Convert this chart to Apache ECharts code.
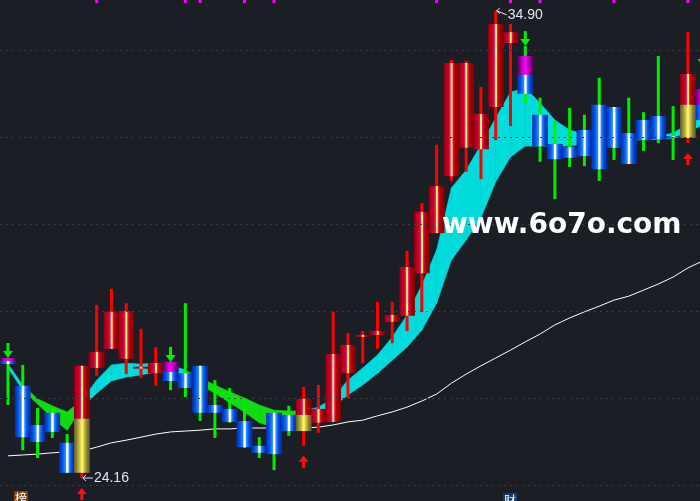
<!DOCTYPE html>
<html>
<head>
<meta charset="utf-8">
<script src="https://cdn.jsdelivr.net/npm/echarts@6/dist/echarts.min.js"></script>
<style>
  html, body { margin: 0; padding: 0; background: #1c1e25; }
  #main { width: 700px; height: 501px; }
</style>
</head>
<body>
<div id="main"></div>
<script>
// 日K 数据，横轴用 K 线序号
var openP = [26.92,26.28,25.38,25.66,24.97,24.28,26.69,27.13,26.90,26.71,26.57,26.83,26.57,26.74,25.84,25.75,25.47,24.90,25.66,25.61,25.24,25.43,25.45,26.57,
  27.43,27.45,27.75,27.89,28.87,29.79,31.10,31.75,31.72,32.69,34.16,33.86,32.51,31.84,31.77,32.16,32.74,32.69,32.09,32.39,32.48,32.02,31.98,33.10];
var closeP = [26.78,25.10,24.99,25.22,24.28,26.74,27.06,27.98,28.00,26.72,26.80,26.39,26.23,25.66,25.66,25.45,24.87,24.74,24.71,25.24,25.98,25.75,27.01,27.22,
  27.45,27.54,27.91,29.01,30.28,30.87,33.70,33.70,32.53,34.60,34.41,32.99,31.79,31.49,31.52,31.56,31.26,31.75,31.38,31.93,31.95,31.98,33.45,32.39];
var lowP = [25.84,24.80,24.62,25.08,24.28,24.16,26.51,27.13,26.55,26.46,26.28,26.18,26.02,25.47,25.08,25.43,24.85,24.62,24.34,25.13,24.90,25.20,25.45,26.00,
  26.80,27.13,27.26,27.54,27.98,29.79,30.99,31.20,31.03,31.93,32.25,32.78,31.43,30.57,31.31,31.33,30.99,31.47,31.38,31.68,31.86,31.47,31.86,32.30];
var highP = [26.92,26.76,25.77,25.79,25.17,26.74,28.14,28.51,28.18,27.59,27.17,26.83,28.18,26.74,26.41,26.23,26.00,25.10,25.68,25.82,26.25,26.30,27.98,27.49,
  27.54,28.21,28.21,29.38,30.48,31.82,33.77,33.75,33.15,34.90,34.60,34.09,32.90,32.34,32.67,32.51,33.36,32.69,32.90,32.57,33.86,32.71,34.41,33.63];

// 长期均线（白线）
var maVals = [24.67,24.69,24.71,24.74,24.76,24.78,24.87,24.97,25.03,25.10,25.17,25.22,25.24,25.26,25.29,25.29,25.31,25.31,25.31,25.31,25.31,25.33,25.38,25.45,
  25.49,25.59,25.68,25.79,25.93,26.09,26.34,26.55,26.74,26.92,27.10,27.29,27.47,27.68,27.84,27.98,28.11,28.25,28.34,28.48,28.62,28.78,28.99,29.15];

// 彩带上下沿 + 每段颜色（1 青 / 0 绿）
var bandHi = [26.78,26.30,25.98,25.82,25.68,25.95,26.41,26.76,26.80,26.78,26.80,26.76,26.64,26.46,26.30,26.14,26.00,25.84,25.72,25.70,25.70,25.79,26.00,26.41,
  26.69,26.99,27.40,27.91,28.60,29.40,30.83,31.24,31.82,32.44,33.03,33.13,32.78,32.39,32.16,32.07,32.02,32.00,32.00,32.00,32.02,32.09,32.30,32.44];
var bandLo = [26.69,26.18,25.86,25.54,25.26,25.77,26.11,26.39,26.48,26.53,26.60,26.60,26.48,26.30,26.11,25.89,25.68,25.43,25.33,25.61,25.63,25.70,25.79,26.07,
  26.30,26.57,26.87,27.17,27.56,28.18,29.17,29.63,30.14,30.97,31.54,31.79,31.79,31.79,31.79,31.84,31.89,31.91,31.93,31.93,31.95,31.98,32.11,32.28];
var bandUp = [1,0,0,0,0,1,1,1,1,1,1,1,0,0,0,0,0,0,0,0,
  1,1,1,1,1,1,1,1,1,1,1,1,1,1,1,1,1,1,1,1,1,1,1,1,1,1,1];

// 实体上的叠加色块（p 紫 / y 黄）
var overlayIdx = [0, 5, 11, 20, 35, 46, 47];
var overlayTop = [26.92, 25.52, 26.83, 25.61, 33.86, 32.74, 33.10];
var overlayBot = [26.85, 24.28, 26.60, 25.24, 33.43, 31.98, 32.74];
var overlayKind = ['p', 'y', 'p', 'y', 'p', 'y', 'p'];

// 买卖箭头
var buyIdx = [5, 20, 46];
var buyPrice = [23.93, 24.67, 31.63];
var sellIdx = [0, 11, 35, 47];
var sellPrice = [26.92, 26.83, 34.09, 33.63];

// 顶部紫色小点
var topIdx = [6, 12, 13, 16, 18, 29, 34, 36, 41, 46];

// 最高 / 最低标注
var noteIdx = [33, 5];
var notePrice = [34.90, 24.16];
var gridPrices = [24, 26, 28, 30, 32, 34];

var xMin = -0.54, xMax = 46.82;
var yMin = 23.632, yMax = 35.149;

var LG = echarts.graphic.LinearGradient;
var redGrad = new LG(0, 0, 1, 0, [
  {offset: 0, color: '#7e0010'}, {offset: 0.15, color: '#b8001c'}, {offset: 0.33, color: '#c8002c'},
  {offset: 0.43, color: '#f02468'}, {offset: 0.47, color: '#e4f27a'}, {offset: 0.55, color: '#e4f27a'},
  {offset: 0.59, color: '#f02468'}, {offset: 0.68, color: '#c40016'}, {offset: 0.8, color: '#9c0000'}, {offset: 1, color: '#860000'}
]);
var blueGrad = new LG(0, 0, 1, 0, [
  {offset: 0, color: '#0030b0'}, {offset: 0.2, color: '#0050e8'}, {offset: 0.4, color: '#2a8cff'},
  {offset: 0.47, color: '#ffffff'}, {offset: 0.55, color: '#ffffff'}, {offset: 0.63, color: '#2a8cff'},
  {offset: 0.8, color: '#0048d8'}, {offset: 1, color: '#0028a0'}
]);
var yellowGrad = new LG(0, 0, 1, 0, [
  {offset: 0, color: '#5e5a30'}, {offset: 0.25, color: '#a8a038'}, {offset: 0.44, color: '#e8e050'},
  {offset: 0.5, color: '#ffff80'}, {offset: 0.58, color: '#e8e050'}, {offset: 0.8, color: '#908830'}, {offset: 1, color: '#5e5a30'}
]);
var purpleGrad = new LG(0, 0, 1, 0, [
  {offset: 0, color: '#500050'}, {offset: 0.3, color: '#c000c0'}, {offset: 0.5, color: '#ff00ff'},
  {offset: 0.7, color: '#c000c0'}, {offset: 1, color: '#500050'}
]);

var candleData = [];
var maData = [];
for (var i = 0; i < openP.length; i++) {
  candleData.push([i, openP[i], closeP[i], lowP[i], highP[i]]);
  maData.push([i, maVals[i]]);
}
var bandData = [];
for (var i = 0; i < bandUp.length; i++) {
  bandData.push([i, bandHi[i], bandLo[i], bandHi[i + 1], bandLo[i + 1], bandUp[i]]);
}
var overlayData = overlayIdx.map(function (k, j) {
  return [k, overlayTop[j], overlayBot[j], overlayKind[j] == 'y' ? 1 : 0];
});
var arrowData = [];
buyIdx.forEach(function (k, j) { arrowData.push([k, buyPrice[j], 1]); });
sellIdx.forEach(function (k, j) { arrowData.push([k, sellPrice[j], -1]); });

function renderBand(params, api) {
  var i = api.value(0);
  var a = api.coord([i, api.value(1)]);
  var b = api.coord([i, api.value(2)]);
  var c = api.coord([i + 1, api.value(4)]);
  var d = api.coord([i + 1, api.value(3)]);
  var col = api.value(5) ? '#00dcdc' : '#10dd10';
  return {
    type: 'polygon',
    shape: { points: [a, d, c, b] },
    style: { fill: col, stroke: col, lineWidth: 0.6 }
  };
}

function renderCandle(params, api) {
  var i = api.value(0), o = api.value(1), c = api.value(2), l = api.value(3), h = api.value(4);
  var w = api.size([1, 0])[0] + 1;
  var pL = api.coord([i, l]), pH = api.coord([i, h]);
  var top = api.coord([i, Math.max(o, c)])[1];
  var bot = api.coord([i, Math.min(o, c)])[1];
  var up = c >= o;
  var x = pL[0];
  return {
    type: 'group',
    children: [
      { type: 'rect', shape: { x: x - 1.5, y: pH[1], width: 3, height: pL[1] - pH[1] },
        style: { fill: up ? '#ff0000' : '#00ee00' } },
      { type: 'rect', shape: { x: x - w / 2, y: top, width: w, height: Math.max(bot - top, 2) },
        style: { fill: up ? redGrad : blueGrad } }
    ]
  };
}

function renderOverlay(params, api) {
  var i = api.value(0);
  var w = api.size([1, 0])[0] + 1;
  var t = api.coord([i, api.value(1)]);
  var b = api.coord([i, api.value(2)]);
  return {
    type: 'rect',
    shape: { x: t[0] - w / 2, y: t[1], width: w, height: b[1] - t[1] },
    style: { fill: api.value(3) ? yellowGrad : purpleGrad }
  };
}

function renderArrow(params, api) {
  var p = api.coord([api.value(0), api.value(1)]);
  var x = p[0], y = p[1];
  if (api.value(2) > 0) {
    // 红色向上箭头
    return { type: 'group', children: [
      { type: 'polygon', shape: { points: [[x, y], [x - 5, y + 6], [x + 5, y + 6]] }, style: { fill: '#ff1010' } },
      { type: 'rect', shape: { x: x - 1.5, y: y + 6, width: 3, height: 6 }, style: { fill: '#ff1010' } }
    ]};
  }
  // 绿色向下箭头
  return { type: 'group', children: [
    { type: 'rect', shape: { x: x - 1.5, y: y - 15, width: 3, height: 10 }, style: { fill: '#00ee00' } },
    { type: 'polygon', shape: { points: [[x, y], [x - 5, y - 7], [x + 5, y - 7]] }, style: { fill: '#00ee00' } }
  ]};
}

function renderTop(params, api) {
  var p = api.coord([api.value(0), yMax]);
  return { type: 'rect', shape: { x: p[0] - 1.5, y: p[1], width: 3, height: 3 }, style: { fill: '#ff00ff' } };
}

function renderNote(params, api) {
  var v = api.value(1);
  var p = api.coord([api.value(0), v]);
  var x = p[0], y = p[1];
  var dy = params.dataIndex == 0 ? 4 : 0;
  return { type: 'group', children: [
    { type: 'line', shape: { x1: x + 1, y1: y, x2: x + 11, y2: y + dy }, style: { stroke: '#e8e8e8', lineWidth: 1 } },
    { type: 'polyline', shape: { points: [[x + 4, y - 3], [x + 1, y], [x + 4, y + 3]] }, style: { stroke: '#e8e8e8', lineWidth: 1, fill: null } },
    { type: 'text', x: x + 12, y: y + dy,
      style: { text: v.toFixed(2), fill: '#e4e4e4', font: '14px "Liberation Sans", Arial', verticalAlign: 'middle', align: 'left' } }
  ]};
}

var chart = echarts.init(document.getElementById('main'), null, { renderer: 'canvas' });

var option = {
  backgroundColor: '#1c1e25',
  animation: false,
  grid: { left: 0, top: 0, right: 0, bottom: 0 },
  xAxis: {
    type: 'value', min: xMin, max: xMax, show: false, splitLine: { show: false }
  },
  yAxis: {
    type: 'value', min: yMin, max: yMax, show: false, splitLine: { show: false }
  },
  series: [
    {
      name: 'MA', type: 'line', data: maData, showSymbol: false, z: 1, clip: false,
      lineStyle: { color: '#ffffff', width: 1 },
      markLine: {
        silent: true, symbol: ['none', 'none'], label: { show: false },
        lineStyle: { color: '#3a3d47', type: [2, 4], width: 1 },
        data: gridPrices.map(function (v) { return { yAxis: v }; })
      }
    },
    { name: 'band', type: 'custom', renderItem: renderBand, data: bandData, z: 2, silent: true, clip: false },
    { name: 'K', type: 'custom', renderItem: renderCandle, data: candleData, z: 3, clip: false,
      encode: { x: 0, y: [1, 2, 3, 4] } },
    { name: 'mark', type: 'custom', renderItem: renderOverlay, data: overlayData, z: 4, clip: false },
    { name: 'arrow', type: 'custom', renderItem: renderArrow, data: arrowData, z: 5, clip: false },
    { name: 'top', type: 'custom', renderItem: renderTop, data: topIdx.map(function (k) { return [k]; }), z: 5, clip: false },
    { name: 'note', type: 'custom', renderItem: renderNote,
      data: noteIdx.map(function (k, j) { return [k, notePrice[j]]; }), z: 6, clip: false }
  ],
  graphic: [
    { type: 'text', left: 442, top: 212, z: 100,
      style: { text: 'www.6o7o.com', fill: '#ffffff', font: 'bold 28px "DejaVu Sans"' } },
    { type: 'text', left: 14, top: 491, z: 100,
      style: { text: '榜', fill: '#ffffff', font: '12px "Noto Sans CJK SC"', backgroundColor: '#7a4010', padding: [1, 1] } },
    { type: 'text', left: 503, top: 493, z: 100,
      style: { text: '财', fill: '#ffffff', font: '12px "Noto Sans CJK SC"', backgroundColor: '#153a66', padding: [1, 1] } }
  ]
};

chart.setOption(option);
</script>
</body>
</html>
